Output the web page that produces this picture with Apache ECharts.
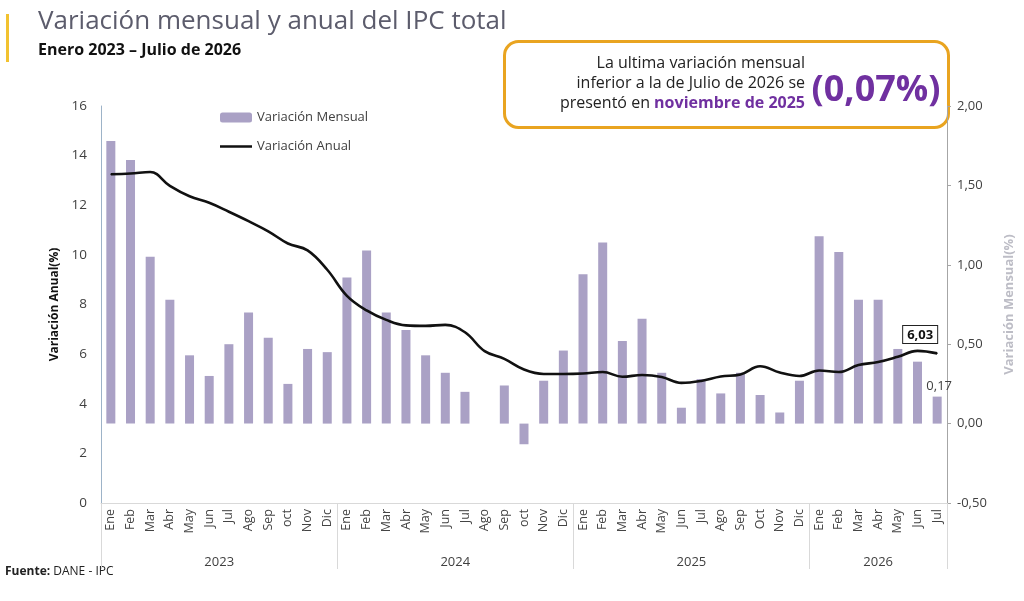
<!DOCTYPE html>
<html>
<head>
<meta charset="utf-8">
<script src="https://cdn.jsdelivr.net/npm/echarts@6/dist/echarts.min.js"></script>
<style>
  html, body { margin: 0; padding: 0; background: #fff; }
  #chart { width: 1024px; height: 601px; }
</style>
</head>
<body>
<div id="chart"></div>
<script>
// months shown on the axis (as written in the source, incl. lowercase "oct")
const months = [
  'Ene','Feb','Mar','Abr','May','Jun','Jul','Ago','Sep','oct','Nov','Dic',
  'Ene','Feb','Mar','Abr','May','Jun','Jul','Ago','Sep','oct','Nov','Dic',
  'Ene','Feb','Mar','Abr','May','Jun','Jul','Ago','Sep','Oct','Nov','Dic',
  'Ene','Feb','Mar','Abr','May','Jun','Jul'
];
const years = ['2023', '2024', '2025', '2026'];
const monthsPerYear = [12, 12, 12, 7];

// Variación mensual (%), eje derecho
const mensual = [
  1.78, 1.66, 1.05, 0.78, 0.43, 0.30, 0.50, 0.70, 0.54, 0.25, 0.47, 0.45,
  0.92, 1.09, 0.70, 0.59, 0.43, 0.32, 0.20, 0.00, 0.24, -0.13, 0.27, 0.46,
  0.94, 1.14, 0.52, 0.66, 0.32, 0.10, 0.28, 0.19, 0.32, 0.18, 0.07, 0.27,
  1.18, 1.08, 0.78, 0.78, 0.47, 0.39, 0.17
];

// Variación anual (%), eje izquierdo
const anual = [
  13.25, 13.28, 13.34, 12.78, 12.36, 12.10, 11.74, 11.36, 10.95, 10.46, 10.18, 9.40,
  8.35, 7.76, 7.38, 7.16, 7.14, 7.18, 6.88, 6.12, 5.81, 5.38, 5.20, 5.20,
  5.22, 5.28, 5.09, 5.16, 5.08, 4.84, 4.92, 5.10, 5.18, 5.51, 5.26, 5.12,
  5.34, 5.28, 5.56, 5.68, 5.89, 6.13, 6.03
];

const leftTicks = { min: 0, max: 16, interval: 2 };
const rightTicks = { min: -0.5, max: 2.0, interval: 0.5 };

// per-month year label, first month index of every year, and where the year name goes
const yearOfMonth = [];
const yearStarts = [];
const yearLabelIdx = {};
monthsPerYear.forEach(function (n, k) {
  yearStarts.push(yearOfMonth.length);
  // centre of the group: odd count -> middle month, even count -> month left of middle (shifted later)
  yearLabelIdx[yearOfMonth.length + Math.ceil(n / 2) - 1] = n % 2 === 0 ? 'even' : 'odd';
  for (let i = 0; i < n; i++) yearOfMonth.push(years[k]);
});

const comma = function (v, d) { return v.toFixed(d).replace('.', ','); };
const lastIdx = months.length - 1;
const purple = '#7030A0';

const chart = echarts.init(document.getElementById('chart'));
chart.setOption({
  animation: false,
  textStyle: { fontFamily: 'Open Sans' },
  title: [{
    text: 'Variación mensual y anual del IPC total',
    left: 33, top: 4,
    textStyle: { fontSize: 26, fontWeight: 'normal', color: '#5c5c6c', fontFamily: 'Open Sans' }
  }, {
    text: 'Enero 2023 – Julio de 2026',
    left: 33, top: 37,
    textStyle: { fontSize: 16, fontWeight: 'bold', color: '#111', fontFamily: 'Open Sans' }
  }],
  legend: {
    orient: 'vertical',
    left: 215, top: 106,
    itemGap: 16,
    itemWidth: 32, itemHeight: 10,
    textStyle: { fontSize: 13, color: '#404040' },
    data: [
      { name: 'Variación Mensual' },
      { name: 'Variación Anual', icon: 'path://M0,0L0.01,0M0,3.8L32,3.8L32,6.2L0,6.2ZM31.99,10L32,10' }
    ]
  },
  grid: { left: 101, right: 72, top: 106, bottom: 98 },
  xAxis: [{
    type: 'category',
    data: months,
    axisLine: { lineStyle: { color: '#d9d9d9' } },
    axisTick: { show: false },
    axisLabel: { rotate: 90, fontSize: 12.5, color: '#444', margin: 6, interval: 0 }
  }, {
    type: 'category',
    data: yearOfMonth,
    position: 'bottom',
    axisLine: { show: false, onZero: false },
    splitLine: { show: false },
    axisTick: {
      show: true, length: 66, inside: false,
      interval: function (i) { return yearStarts.indexOf(i) >= 0 || i === lastIdx + 1; },
      lineStyle: { color: '#d9d9d9' }
    },
    axisLabel: {
      margin: 53, fontSize: 13, color: '#404040',
      interval: function (i) { return yearLabelIdx[i] !== undefined; },
      formatter: function (v, i) {
        return yearLabelIdx[i] === 'even' ? '{s|' + v + '}' : v;
      },
      rich: { s: { fontSize: 13, color: '#404040', padding: [0, 0, 0, 20] } }
    }
  }],
  yAxis: [{
    type: 'value',
    min: leftTicks.min, max: leftTicks.max, interval: leftTicks.interval,
    name: 'Variación Anual(%)',
    nameLocation: 'middle', nameGap: 36,
    nameTextStyle: { fontWeight: 'bold', fontSize: 12, color: '#111' },
    axisLine: { show: true, lineStyle: { color: '#9db3c8' } },
    axisTick: { show: false },
    splitLine: { show: false },
    axisLabel: { fontSize: 13.5, color: '#404040', margin: 14 }
  }, {
    type: 'value',
    position: 'right',
    min: rightTicks.min, max: rightTicks.max, interval: rightTicks.interval,
    name: 'Variación Mensual(%)',
    nameLocation: 'middle', nameGap: 56,
    nameRotate: 90,
    nameTextStyle: { fontWeight: 'bold', fontSize: 13, color: '#bdbdc6' },
    axisLine: { show: true, lineStyle: { color: '#a6a6a6' } },
    axisTick: { show: true, length: 4, lineStyle: { color: '#a6a6a6' } },
    splitLine: { show: false },
    axisLabel: { fontSize: 13, color: '#404040', margin: 10, formatter: function (v) { return comma(v, 2); } }
  }],
  series: [{
    name: 'Variación Mensual',
    type: 'bar',
    xAxisIndex: 0,
    yAxisIndex: 1,
    barWidth: 9,
    itemStyle: { color: '#aaa1c5' },
    data: mensual.map(function (v, i) {
      if (i !== lastIdx) return v;
      return {
        value: v,
        label: {
          show: true, position: 'top', distance: 4, offset: [2, 0],
          fontSize: 13, color: '#404040',
          formatter: function (p) { return comma(p.value, 2); }
        }
      };
    })
  }, {
    name: 'Variación Anual',
    type: 'line',
    xAxisIndex: 0,
    yAxisIndex: 0,
    smooth: 0.4,
    symbol: 'circle',
    symbolSize: 1,
    showSymbol: true,
    lineStyle: { color: '#111', width: 2.6 },
    itemStyle: { color: '#111' },
    data: anual.map(function (v, i) {
      if (i !== lastIdx) return v;
      return {
        value: v,
        label: {
          show: true, position: 'top', offset: [-17, -5],
          fontSize: 13, fontWeight: 'bold', color: '#111',
          backgroundColor: '#fff', borderColor: '#222', borderWidth: 1,
          padding: [3, 4, 1, 4],
          formatter: function (p) { return comma(p.value, 2); }
        }
      };
    })
  }],
  graphic: [{
    type: 'rect',
    left: 6, top: 14,
    shape: { width: 3, height: 48 },
    style: { fill: '#f2c230' }
  }, {
    type: 'rect',
    left: 503, top: 40,
    shape: { width: 444, height: 86, r: 14 },
    style: { fill: '#fff', stroke: '#e9a420', lineWidth: 3 }
  }, {
    type: 'text',
    x: 805, y: 83,
    style: {
      text: 'La ultima variación mensual\ninferior a la de Julio de 2026 se\npresentó en {b|noviembre de 2025}',
      align: 'right', verticalAlign: 'middle',
      font: '16px "Open Sans"', fill: '#222', lineHeight: 20,
      rich: { b: { font: 'bold 16px "Open Sans"', fill: purple, lineHeight: 20 } }
    }
  }, {
    type: 'text',
    x: 876, y: 91,
    style: {
      text: '(0,07%)',
      align: 'center', verticalAlign: 'middle',
      font: 'bold 36px "Open Sans"', fill: purple
    }
  }, {
    type: 'text',
    left: 5, top: 566,
    style: {
      text: '{b|Fuente:} DANE - IPC',
      font: '12px "Open Sans"', fill: '#222',
      rich: { b: { font: 'bold 12px "Open Sans"', fill: '#222' } }
    }
  }]
});
</script>
</body>
</html>
